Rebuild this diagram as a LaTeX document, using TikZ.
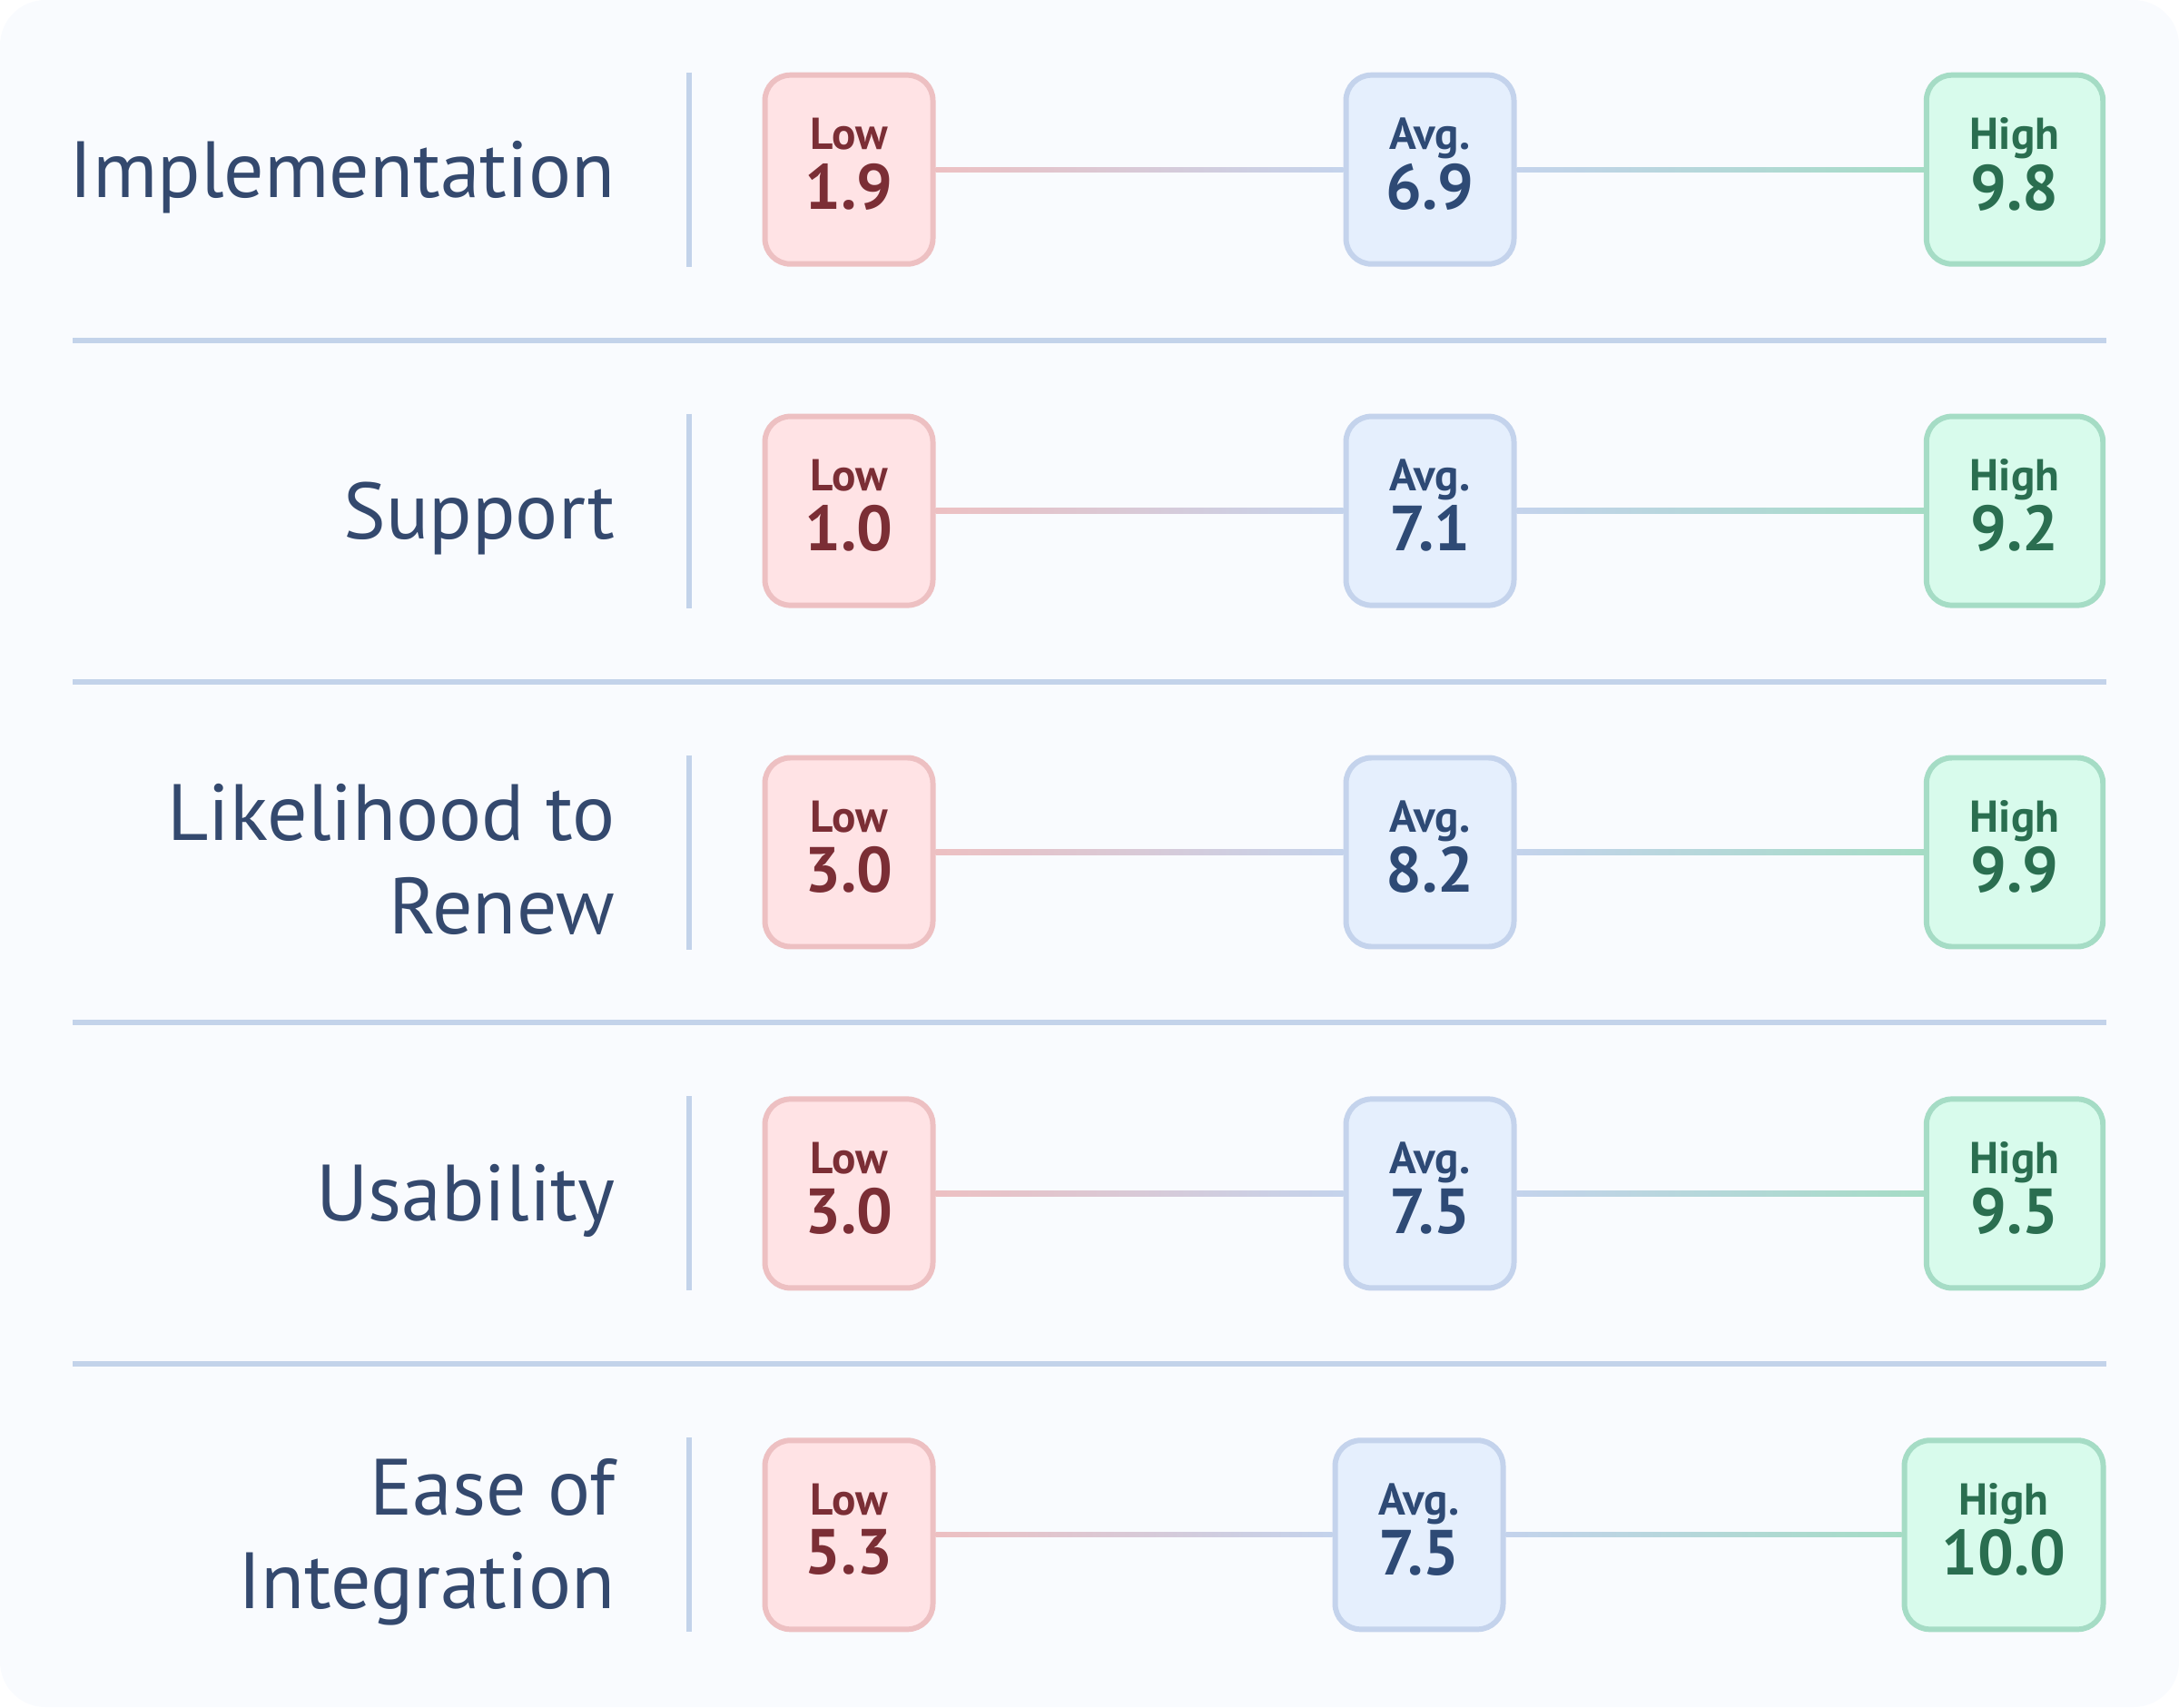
\documentclass[tikz,border=0pt]{standalone}
\usepackage{fontspec}
\setmainfont{PT Sans}
\usetikzlibrary{positioning}
\definecolor{pagebg}{HTML}{F9FBFE}
\definecolor{ink}{HTML}{34496E}
\definecolor{rule}{HTML}{C3D3EA}
\definecolor{lowfill}{HTML}{FFE3E5}
\definecolor{lowline}{HTML}{EDC0C2}
\definecolor{lowtext}{HTML}{7B2E35}
\definecolor{avgfill}{HTML}{E5EFFD}
\definecolor{avgline}{HTML}{C4D3EC}
\definecolor{avgtext}{HTML}{2E4A75}
\definecolor{highfill}{HTML}{D8FBEC}
\definecolor{highline}{HTML}{A5DCC5}
\definecolor{hightext}{HTML}{2A6E50}
\newcommand\scoretext[2]{\raisebox{-1.7pt}{\begin{tabular}{@{}c@{}}{\fontsize{14}{16}\selectfont #1}\\[1pt]{\fontsize{20}{22}\selectfont #2}\end{tabular}}}
\tikzset{
  scorebox/.style={draw=#1line, fill=#1fill, text=#1text, line width=1.7pt,
    rounded corners=0.28cm, minimum height=2.08cm, align=center, inner sep=0pt,
    font=\bfseries},
  rowlabel/.style={text=ink, align=right, anchor=east, inner sep=0pt,
    font=\fontsize{25}{29.5}\selectfont},
}
\begin{document}
\begin{tikzpicture}
  \useasboundingbox (0,0) rectangle (24,-18.8);
  \fill[pagebg] (0,0) [rounded corners=0.5cm] rectangle (24,-18.8);
  % separators between rows
  \foreach \k in {1,...,4}
    \draw[rule, line width=1.7pt] (0.8,{-1.867-(\k-0.5)*3.759}) -- (23.2,{-1.867-(\k-0.5)*3.759});
  % rows: index / label / low / avg / high / avg x / high x / high width
  \foreach \i/\name/\lo/\av/\hi/\ax/\hx/\hw in {
      0/Implementation/1.9/6.9/9.8/15.75/22.19/1.944,
      1/Support/1.0/7.1/9.2/15.75/22.19/1.944,
      2/{Likelihood to\\Renew}/3.0/8.2/9.9/15.75/22.19/1.944,
      3/Usability/3.0/7.5/9.5/15.75/22.19/1.944,
      4/{Ease of\\Integration}/5.3/7.5/10.0/15.63/22.07/2.19}{
    \coordinate (c\i) at (0,{-1.867-\i*3.759});
    \node[rowlabel] (name\i) at ([xshift=6.78cm,yshift=-0.08cm]c\i) {\name};
    \draw[rule, line width=1.7pt] ([xshift=7.59cm,yshift=1.07cm]c\i) -- ([xshift=7.59cm,yshift=-1.07cm]c\i);
    \node[scorebox=low, minimum width=1.85cm] (lo\i) at ([xshift=9.35cm]c\i) {\scoretext{Low}{\lo}};
    \node[scorebox=avg, minimum width=1.85cm] (av\i) at ([xshift=\ax cm]c\i) {\scoretext{Avg.}{\av}};
    \node[scorebox=high, minimum width=\hw cm] (hi\i) at ([xshift=\hx cm]c\i) {\scoretext{High}{\hi}};
    \shade[left color=lowline, right color=avgline]
      ([yshift=-0.75pt]lo\i.east) rectangle ([yshift=0.75pt]av\i.west);
    \shade[left color=avgline, right color=highline]
      ([yshift=-0.75pt]av\i.east) rectangle ([yshift=0.75pt]hi\i.west);
  }
\end{tikzpicture}
\end{document}
